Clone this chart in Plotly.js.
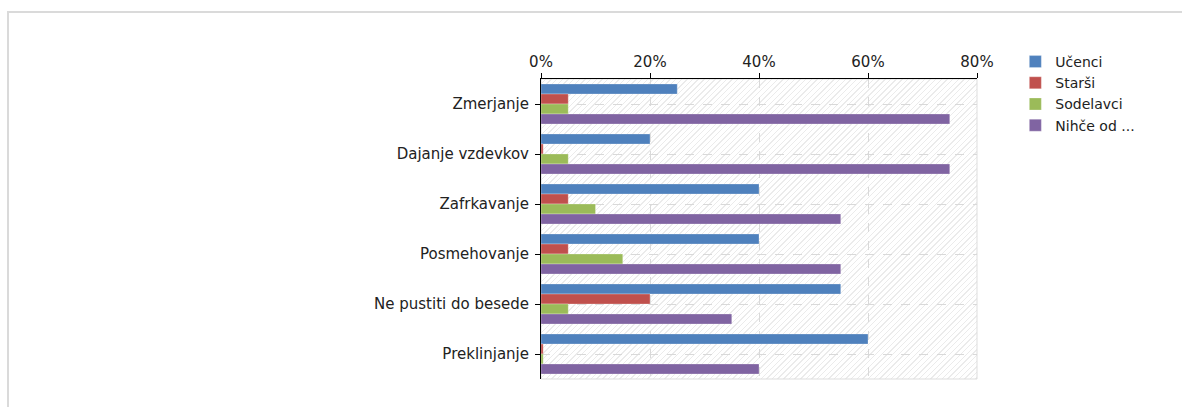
<!DOCTYPE html>
<html>
<head>
<meta charset="utf-8">
<script src="https://cdn.plot.ly/plotly-3.0.1.min.js"></script>
<style>
  html, body { margin: 0; padding: 0; background: #ffffff; }
  #wrap { position: relative; width: 1182px; height: 407px; overflow: hidden; background: #fff; }
  #frame { position: absolute; left: 7px; top: 11px; width: 1200px; height: 420px;
           border-top: 2px solid #dadada; border-left: 2px solid #dadada; box-sizing: border-box; }
  #hatch { position: absolute; left: 541px; top: 79px; width: 436px; height: 300px;
           background: repeating-linear-gradient(135deg, #ffffff 0px, #ffffff 3px, #ebebeb 3px, #ebebeb 4px); }
  #chart { position: absolute; left: 0; top: 0; width: 1182px; height: 407px; }
</style>
</head>
<body>
<div id="wrap">
  <div id="frame"></div>
  <div id="hatch"></div>
  <div id="chart"></div>
</div>
<script>
// ---- data (percent) ----
const categories = ["Zmerjanje", "Dajanje vzdevkov", "Zafrkavanje", "Posmehovanje", "Ne pustiti do besede", "Preklinjanje"];
const seriesNames = ["Učenci", "Starši", "Sodelavci", "Nihče od ..."];
const ucenci    = [25, 20, 40, 40, 55, 60];
const starsi    = [5, 0.4, 5, 5, 20, 0.4];
const sodelavci = [5, 5, 10, 15, 5, 0.4];
const nihce     = [75, 75, 55, 55, 35, 40];
const xTickVals = [0, 20, 40, 60, 80];
const xTickText = ["0%", "20%", "40%", "60%", "80%"];

const colors = ["#4F81BD", "#C0504D", "#9BBB59", "#8064A2"];
const values = [ucenci, starsi, sodelavci, nihce];

const traces = values.map((v, i) => ({
  type: "bar",
  orientation: "h",
  name: seriesNames[i],
  y: categories,
  x: v,
  marker: { color: colors[i], line: { color: "rgba(255,255,255,0.45)", width: 0.6 } },
  hoverinfo: "x+name"
}));

const fam = "DejaVu Sans, Verdana, sans-serif";
const tickFontY = { family: fam, size: 15, color: "#222222" };
const tickFontX = { family: fam, size: 15, color: "#222222" };
const legFont = { family: fam, size: 14, color: "#222222" };

const layout = {
  width: 1182,
  height: 407,
  margin: { l: 541, r: 205, t: 79, b: 28, pad: 0 },
  paper_bgcolor: "rgba(0,0,0,0)",
  plot_bgcolor: "rgba(0,0,0,0)",
  font: tickFontY,
  barmode: "group",
  bargap: 0.2,
  bargroupgap: 0,
  showlegend: true,
  legend: {
    xref: "container", yref: "container",
    x: 0.859, y: 0.887, xanchor: "left", yanchor: "top",
    font: legFont, bgcolor: "rgba(0,0,0,0)",
    tracegroupgap: 0, itemwidth: 30, itemclick: false
  },
  xaxis: {
    side: "top",
    range: [0, 80],
    tickvals: xTickVals,
    ticktext: xTickText,
    ticks: "outside", ticklen: 5, tickcolor: "#000", tickwidth: 1,
    showline: true, linecolor: "#000", linewidth: 1,
    showgrid: true, gridcolor: "#d9d9d9", griddash: "dash", gridwidth: 1,
    zeroline: false,
    tickfont: tickFontX,
    fixedrange: true
  },
  yaxis: {
    type: "category",
    autorange: "reversed",
    ticks: "outside", ticklen: 5, tickcolor: "#000", tickwidth: 1,
    showline: true, linecolor: "#000", linewidth: 1,
    showgrid: true, gridcolor: "#d9d9d9", griddash: "dash", gridwidth: 1,
    zeroline: false,
    tickfont: tickFontY,
    ticklabelstandoff: 3,
    fixedrange: true
  },
  shapes: [{
    type: "rect", xref: "paper", yref: "paper", x0: 0, x1: 1, y0: 0, y1: 1,
    line: { color: "#dddddd", width: 1 }, layer: "below"
  }]
};

Plotly.newPlot("chart", traces, layout, { displayModeBar: false, staticPlot: false });
</script>
</body>
</html>
